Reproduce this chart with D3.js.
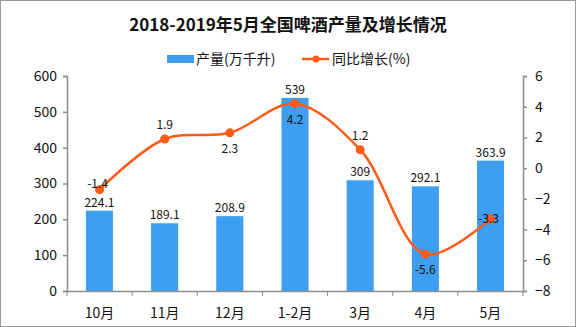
<!DOCTYPE html>
<html><head><meta charset="utf-8">
<script src="https://cdn.jsdelivr.net/npm/d3@7"></script>
<style>
html,body{margin:0;padding:0;background:#fff;}
svg{display:block;font-family:"Noto Sans CJK SC","Noto Sans",sans-serif;}
</style></head>
<body>
<svg id="c" width="576" height="327"></svg>
<script>
const title = "2018-2019年5月全国啤酒产量及增长情况";
const categories = ["10月","11月","12月","1-2月","3月","4月","5月"];
const output = [224.1, 189.1, 208.9, 539, 309, 292.1, 363.9];
const growth = [-1.4, 1.9, 2.3, 4.2, 1.2, -5.6, -3.3];
const leftTicks = [0,100,200,300,400,500,600];
const rightTicks = [-8,-6,-4,-2,0,2,4,6];
const seriesNames = ["产量(万千升)", "同比增长(%)"];
// label placement for growth labels (style)
const growthLabelPlace = ["high","above","below","below","above","below","on"];

const W = 576, H = 327;
const m = {l:67, r:53, t:76, b:36};
const svg = d3.select("#c");
const blue = "#3e9ef0", orange = "#ff5b14", axisC = "#8c8c8c";

svg.append("rect").attr("x",0.5).attr("y",0.5).attr("width",W-1).attr("height",H-1)
  .attr("fill","#fff").attr("stroke","#9a9a9a");

const x = d3.scaleBand().domain(categories).range([m.l, W-m.r]).paddingInner(0.585).paddingOuter(0.29);
const xb = d3.scaleBand().domain(categories).range([m.l, W-m.r]);
const yL = d3.scaleLinear().domain([0,600]).range([H-m.b, m.t]);
const yR = d3.scaleLinear().domain([-8,6]).range([H-m.b, m.t]);

// title
svg.append("text").attr("x",288).attr("y",31).attr("text-anchor","middle")
  .attr("font-size",17).attr("font-weight","bold").attr("fill","#111").text(title);

// legend
const lg = svg.append("g");
lg.append("rect").attr("x",167).attr("y",55).attr("width",27).attr("height",8).attr("fill",blue);
lg.append("text").attr("x",196).attr("y",64).attr("font-size",14).attr("fill","#111").text(seriesNames[0]);
lg.append("line").attr("x1",302).attr("x2",329).attr("y1",59).attr("y2",59).attr("stroke",orange).attr("stroke-width",2.5);
lg.append("circle").attr("cx",316).attr("cy",59).attr("r",3.5).attr("fill",orange);
lg.append("text").attr("x",332).attr("y",64).attr("font-size",14).attr("fill","#111").text(seriesNames[1]);

// bars
svg.append("g").selectAll("rect").data(output).join("rect")
  .attr("x",(d,i)=>x(categories[i])).attr("width",x.bandwidth())
  .attr("y",d=>yL(d)).attr("height",d=>yL(0)-yL(d)).attr("fill",blue);

// axes
const axL = svg.append("g").attr("transform",`translate(${m.l},0)`)
  .call(d3.axisLeft(yL).tickValues(leftTicks).tickSize(4).tickPadding(6));
const axR = svg.append("g").attr("transform",`translate(${W-m.r},0)`)
  .call(d3.axisRight(yR).tickValues(rightTicks).tickSize(4).tickPadding(8).tickFormat(d=>d<0?"−"+Math.abs(d):d));
const axB = svg.append("g").attr("transform",`translate(0,${H-m.b})`)
  .call(d3.axisBottom(xb).tickSize(0).tickPadding(17));
// boundary ticks
svg.append("g").selectAll("line").data(d3.range(categories.length+1)).join("line")
  .attr("x1",i=>m.l+i*xb.step()).attr("x2",i=>m.l+i*xb.step())
  .attr("y1",H-m.b).attr("y2",H-m.b+5).attr("stroke",axisC);
[axL,axR,axB].forEach(a=>{
  a.selectAll("path,line").attr("stroke",axisC).attr("stroke-width",1.5);
  a.selectAll("text").attr("fill","#111").attr("font-size",14).attr("font-family",'"Noto Sans CJK SC",sans-serif');
});

// bar labels
svg.append("g").selectAll("text").data(output).join("text")
  .attr("x",(d,i)=>x(categories[i])+x.bandwidth()/2).attr("y",d=>yL(d)-4)
  .attr("text-anchor","middle").attr("font-size",12).attr("fill","#111").text(d=>d);

// line
const pts = growth.map((g,i)=>[xb(categories[i])+xb.bandwidth()/2, yR(g)]);
svg.append("path").attr("d",d3.line().curve(d3.curveCatmullRom.alpha(0.5))(pts))
  .attr("fill","none").attr("stroke",orange).attr("stroke-width",2.5);
svg.append("g").selectAll("circle").data(pts).join("circle")
  .attr("cx",d=>d[0]).attr("cy",d=>d[1]).attr("r",4.5).attr("fill",orange);

// growth labels
const dy = {above:-10, below:20, on:4, high:-2};
svg.append("g").selectAll("text").data(growth).join("text")
  .attr("x",(d,i)=>pts[i][0]-(growthLabelPlace[i]==="on"||growthLabelPlace[i]==="high"?2:0))
  .attr("y",(d,i)=>pts[i][1]+dy[growthLabelPlace[i]])
  .attr("text-anchor","middle").attr("font-size",12).attr("fill","#111")
  .text(d=>d<0?"-"+Math.abs(d):d);
</script>
</body></html>
